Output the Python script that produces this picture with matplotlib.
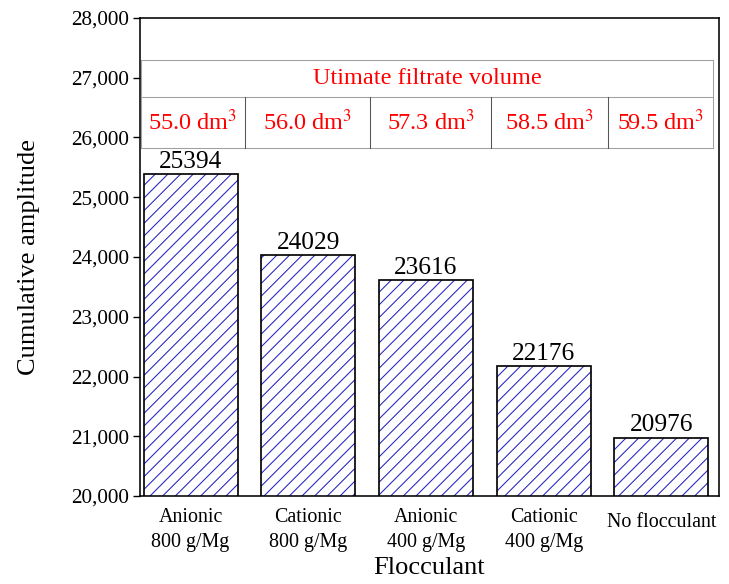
import matplotlib
matplotlib.use('Agg')
from matplotlib import pyplot as plt
from matplotlib.ticker import FuncFormatter

categories = ['Anionic\n800 g/Mg', 'Cationic\n800 g/Mg', 'Anionic\n400 g/Mg',
              'Cationic\n400 g/Mg', 'No flocculant']
amplitudes = [25394, 24029, 23616, 22176, 20976]
table_title = 'Utimate filtrate volume'
filtrate_volumes = ['55.0', '56.0', '57.3', '58.5', '59.5']


def main():
    plt.rcParams['font.family'] = ['Liberation Serif', 'DejaVu Serif']
    plt.rcParams['mathtext.fontset'] = 'stix'
    plt.rcParams['hatch.linewidth'] = 1.0

    dpi = 76
    fig = plt.figure(figsize=(729 / dpi, 584 / dpi), dpi=dpi)
    ax = fig.add_axes([140 / 729, 88 / 584, 579 / 729, 478 / 584])

    x = list(range(len(categories)))
    # hatch in blue, outline in black
    ax.bar(x, amplitudes, width=0.8, color='white', edgecolor='#2424c0',
           hatch='//', linewidth=0, zorder=2)
    ax.bar(x, amplitudes, width=0.8, color='none', edgecolor='black',
           linewidth=1.6, zorder=3)
    for xi, v in zip(x, amplitudes):
        ax.text(xi, v + 20, str(v), ha='center', va='bottom', fontsize=24)

    ax.set_ylim(20000, 28000)
    ax.set_xlim(-0.43, 4.49)
    ax.set_yticks(range(20000, 28001, 1000))
    ax.yaxis.set_major_formatter(FuncFormatter(lambda v, p: f'{int(v):,}'))
    ax.set_xticks(x)
    ax.set_xticklabels(categories, linespacing=1.45)
    ax.tick_params(axis='y', direction='out', length=7, width=1.3, labelsize=20, pad=3)
    ax.tick_params(axis='x', length=0, labelsize=19, pad=11)
    # single-line label sits a little lower in the original
    ax.get_xticklabels()[-1].set_y(-0.012)
    for s in ax.spines.values():
        s.set_linewidth(1.5)

    ax.set_ylabel('Cumulative amplitude', fontsize=25, labelpad=30)
    ax.set_xlabel('Flocculant', fontsize=25, labelpad=5)

    # table with filtrate volumes
    tx0, tx1 = 0.002, 0.99
    ty_top, ty_mid, ty_bot = 0.912, 0.835, 0.728
    dividers = [0.0017, 0.181, 0.397, 0.606, 0.808, 0.99]
    grey = '#a0a0a0'
    tr = ax.transAxes
    for yy in (ty_top, ty_mid, ty_bot):
        ax.plot([tx0, tx1], [yy, yy], color=grey, lw=1, transform=tr, zorder=4)
    for xx in (tx0, tx1):
        ax.plot([xx, xx], [ty_bot, ty_top], color=grey, lw=1, transform=tr, zorder=4)
    for xx in dividers[1:-1]:
        ax.plot([xx, xx], [ty_bot, ty_mid], color='#555555', lw=1, transform=tr, zorder=4)
    ax.text((tx0 + tx1) / 2, (ty_top + ty_mid) / 2, table_title, color='red',
            ha='center', va='center', fontsize=23, transform=tr)
    for i, vol in enumerate(filtrate_volumes):
        cx = (dividers[i] + dividers[i + 1]) / 2
        ax.text(cx, (ty_mid + ty_bot) / 2, vol + ' dm$^3$', color='red',
                ha='center', va='center', fontsize=23, transform=tr)

    plt.savefig('out.png', dpi=dpi)


if __name__ == '__main__':
    main()
